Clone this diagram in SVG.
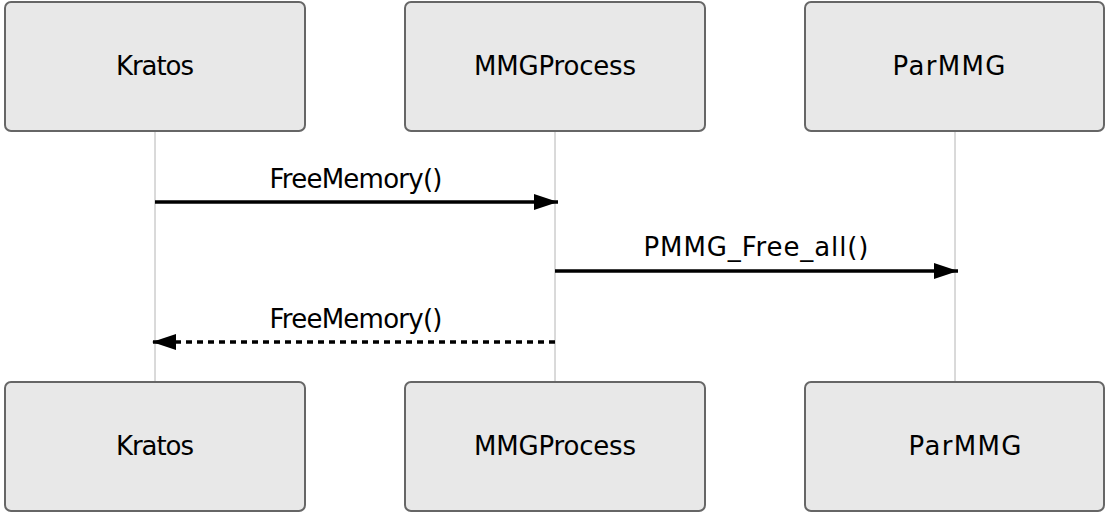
<svg xmlns="http://www.w3.org/2000/svg" width="1106" height="513" viewBox="0 0 1106 513">
<style>
.box{fill:#e8e8e8;stroke:#666;stroke-width:2}
.life{stroke:#b4b4b4;stroke-width:1}
.lbl{font-family:"DejaVu Sans",Verdana,sans-serif;font-size:26px;fill:#000;text-anchor:middle}
.msg{fill:none;stroke:#000;stroke-width:3.5}
.dash{stroke-dasharray:6 5}
</style>
<defs>
<marker id="ah" viewBox="0 0 24 16" refX="24" refY="8" markerWidth="24" markerHeight="16" markerUnits="userSpaceOnUse" orient="auto">
<path d="M0,0 L24,8 L0,16 Z" fill="#000"/>
</marker>
</defs>
<g id="lifelines">
<line class="life" x1="155" y1="131" x2="155" y2="382"/>
<line class="life" x1="555" y1="131" x2="555" y2="382"/>
<line class="life" x1="955" y1="131" x2="955" y2="382"/>
</g>
<g id="kratos-top"><rect class="box" x="5" y="2" width="300" height="129" rx="6"/><text class="lbl" x="155" y="75" textLength="78">Kratos</text></g>
<g id="mmgprocess-top"><rect class="box" x="405" y="2" width="300" height="129" rx="6"/><text class="lbl" x="555" y="75" textLength="162">MMGProcess</text></g>
<g id="parmmg-top"><rect class="box" x="805" y="2" width="299" height="129" rx="6"/><text class="lbl" x="949" y="75" textLength="113">ParMMG</text></g>
<g id="kratos-bottom"><rect class="box" x="5" y="382" width="300" height="129" rx="6"/><text class="lbl" x="155" y="455" textLength="78">Kratos</text></g>
<g id="mmgprocess-bottom"><rect class="box" x="405" y="382" width="300" height="129" rx="6"/><text class="lbl" x="555" y="455" textLength="162">MMGProcess</text></g>
<g id="parmmg-bottom"><rect class="box" x="805" y="382" width="299" height="129" rx="6"/><text class="lbl" x="965" y="455" textLength="113">ParMMG</text></g>
<g id="connectors">
<line class="msg" x1="155" y1="202" x2="558" y2="202" marker-end="url(#ah)"/>
<text class="lbl" x="356" y="188" textLength="173">FreeMemory()</text>
<line class="msg" x1="555" y1="271" x2="958" y2="271" marker-end="url(#ah)"/>
<text class="lbl" x="756" y="256" textLength="225">PMMG_Free_all()</text>
<line class="msg dash" x1="555" y1="342" x2="152" y2="342" marker-end="url(#ah)"/>
<text class="lbl" x="356" y="328" textLength="173">FreeMemory()</text>
</g>
</svg>
